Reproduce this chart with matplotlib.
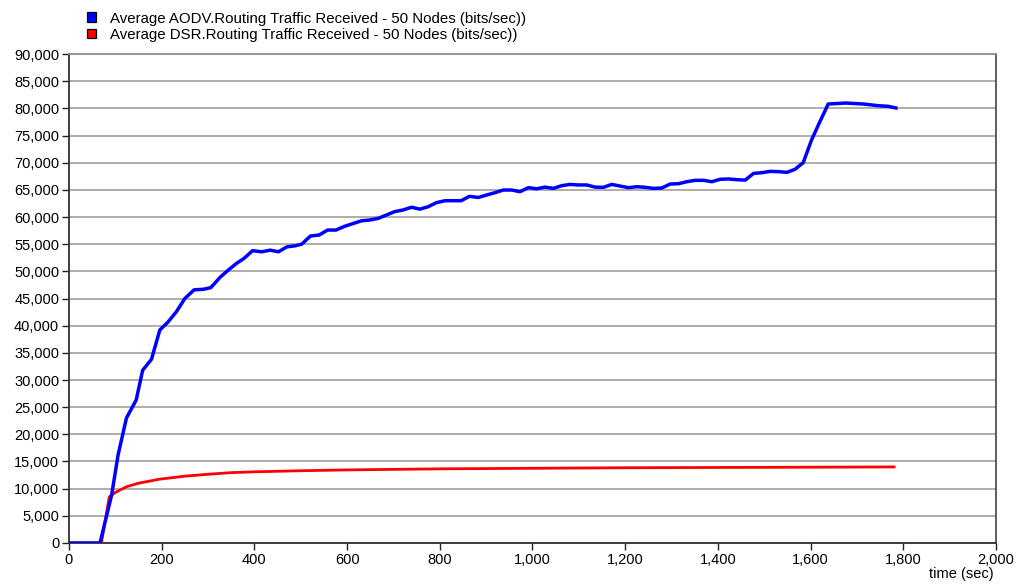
import matplotlib
matplotlib.use("Agg")
import matplotlib.pyplot as plt
from matplotlib.patches import Rectangle
from matplotlib.ticker import FuncFormatter, MultipleLocator

# AODV routing traffic received, averaged over 50 nodes
aodv_time = [0, 67, 92, 106, 124, 145, 159, 178, 196, 214, 232, 250, 270, 290, 306,
             326, 344, 362, 378, 396, 416, 434, 452, 470, 488, 502, 521, 540, 558,
             576, 595, 613, 631, 649, 667, 685, 703, 721, 739, 757, 775, 793, 811,
             846, 864, 883, 901, 919, 937, 955, 973, 991, 1009, 1027, 1045, 1063,
             1081, 1099, 1117, 1135, 1153, 1171, 1189, 1207, 1225, 1243, 1261, 1279,
             1297, 1315, 1333, 1351, 1369, 1387, 1405, 1423, 1441, 1459, 1477, 1495,
             1513, 1531, 1549, 1566, 1584, 1602, 1620, 1638, 1676, 1714, 1746, 1768,
             1784]
aodv_bps = [0, 0, 8800, 16200, 23000, 26300, 31800, 33800, 39200, 40700, 42600, 45000,
            46600, 46700, 47000, 48900, 50250, 51500, 52400, 53800, 53600, 53900,
            53600, 54500, 54700, 55000, 56500, 56700, 57600, 57600, 58300, 58800,
            59300, 59450, 59750, 60370, 61000, 61300, 61800, 61450, 61900, 62650,
            63000, 63000, 63800, 63600, 64050, 64480, 64970, 64970, 64660, 65400,
            65200, 65500, 65270, 65770, 66000, 65900, 65900, 65500, 65470, 66000,
            65700, 65400, 65580, 65470, 65270, 65340, 66070, 66130, 66500, 66750,
            66750, 66500, 66950, 67000, 66870, 66800, 68030, 68160, 68400, 68350,
            68220, 68770, 70000, 74180, 77550, 80800, 80980, 80800, 80490, 80370,
            80060]

# DSR routing traffic received, averaged over 50 nodes
dsr_time = [0, 70, 87, 100, 124, 150, 196, 250, 300, 350, 400, 500, 600, 700, 800,
            1000, 1200, 1400, 1600, 1780]
dsr_bps = [0, 0, 8500, 9300, 10350, 11000, 11750, 12300, 12650, 12950, 13100, 13300,
           13450, 13550, 13650, 13750, 13850, 13900, 13950, 14000]

series_labels = [
    "Average AODV.Routing Traffic Received - 50 Nodes (bits/sec))",
    "Average DSR.Routing Traffic Received - 50 Nodes (bits/sec))",
]
x_label = "time (sec)"

plt.rcParams["font.family"] = ["Liberation Sans", "DejaVu Sans"]

W, H = 1020, 586
fig = plt.figure(figsize=(W / 100, H / 100), dpi=100)
ax = fig.add_axes([0.0676, 0.0734, 0.9089, 0.8344])

ax.plot(dsr_time, dsr_bps, color="#ff0000", lw=2.0, zorder=3)
ax.plot(aodv_time, aodv_bps, color="#0000ff", lw=2.5, zorder=4)

ax.set_xlim(0, 2000)
ax.set_ylim(0, 90000)
ax.xaxis.set_major_locator(MultipleLocator(200))
ax.yaxis.set_major_locator(MultipleLocator(5000))
fmt = FuncFormatter(lambda v, _: f"{int(round(v)):,}")
ax.xaxis.set_major_formatter(fmt)
ax.yaxis.set_major_formatter(fmt)
ax.tick_params(axis="both", direction="out", length=5, width=1, colors="#202020",
               labelsize=10.5, pad=2, labelcolor="black")

ax.grid(axis="y", color="#a0a0a0", lw=1.2)
ax.set_axisbelow(True)
ax.spines["left"].set_color("#303030")
ax.spines["bottom"].set_color("#303030")
ax.spines["top"].set_color("#909090")
ax.spines["right"].set_color("#505050")
for s in ax.spines.values():
    s.set_linewidth(1.3)

fig.text(0.974, 0.008, x_label, ha="right", va="bottom", fontsize=10.5)

# legend as coloured squares with text
for i, (lab, col) in enumerate(zip(series_labels, ["#0000ff", "#ff0000"])):
    ysq = 1 - (17 + 16.5 * i) / H
    ytx = 1 - (18.5 + 16.5 * i) / H
    fig.add_artist(Rectangle((87 / W, ysq - 4.5 / H), 9 / W, 9 / H,
                             transform=fig.transFigure, facecolor=col,
                             edgecolor="black", lw=0.9))
    fig.text(110 / W, ytx, lab, ha="left", va="center", fontsize=10.8)

fig.savefig("out.png", dpi=100)
